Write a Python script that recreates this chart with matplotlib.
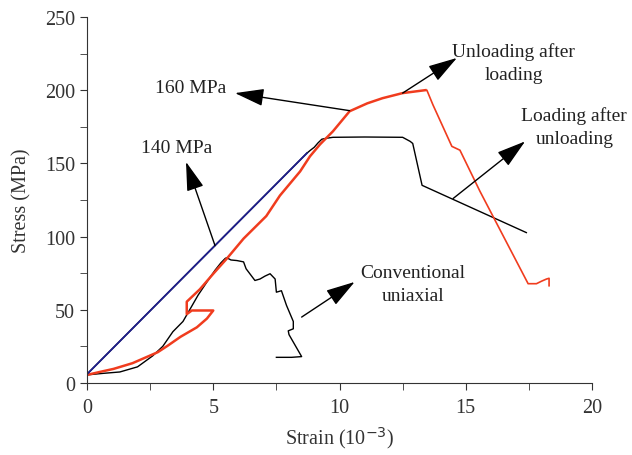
import numpy as np
import matplotlib.pyplot as plt

plt.rcParams['font.family'] = ['Liberation Serif', 'DejaVu Serif']

# conventional uniaxial (black, low peak)
conv_x = [0, 0.6, 1.3, 2.0, 2.6, 3.0, 3.4, 3.8, 4.1, 4.4, 4.75, 5.07, 5.3, 5.47, 5.53,
          5.7, 5.94, 6.2, 6.3, 6.65, 6.85, 7.05, 7.25, 7.45, 7.5, 7.7, 7.9, 8.17, 8.17,
          7.97, 8.0, 8.5, 8.1, 7.5]
conv_y = [5.5, 6.5, 7.5, 11, 18.5, 25, 35, 42, 51, 60, 69, 77, 82, 85, 85.6,
          84, 83.6, 82.7, 78, 70, 71, 73, 74.6, 71, 62, 63, 53, 42, 37,
          35.6, 33, 18, 17.5, 17.5]

# loading after unloading (black, high peak)
lau_x = [0, 8.71, 8.85, 9.0, 9.15, 9.3, 9.5, 9.74, 11.0, 12.5, 12.8, 12.9, 13.27, 17.4]
lau_y = [6, 157, 159, 161, 164, 166.5, 167.2, 167.8, 168, 167.8, 165, 163.6, 135, 102.7]

# 140 MPa reference line (blue)
blue_x = [0, 8.71]
blue_y = [6, 157]

# unloading after loading (red): rising part and falling part
red_up_x = [0, 0.5, 1.05, 1.8, 2.4, 2.8, 3.2, 3.7, 4.0, 4.35, 4.75, 5.0, 4.15, 3.95, 3.95,
            4.47, 5.0, 5.54, 6.2, 7.1, 7.64, 8.44, 8.83, 9.23, 9.74, 10.4, 11.1, 11.7,
            12.5, 13.4]
red_up_y = [5.5, 7.5, 9.6, 13.5, 18, 21, 25.5, 31.5, 34.5, 38, 44, 49.5, 49.5, 47, 55.5,
            64, 74.6, 85, 98.6, 114, 128, 144.5, 154.8, 163, 171.9, 185.6, 191, 194.5,
            198, 200]
red_dn_x = [13.4, 13.46, 13.7, 14.45, 14.77, 15.56, 17.47, 17.8, 18.0, 18.2, 18.3, 18.3]
red_dn_y = [200, 200, 190, 161.6, 159, 131, 67.8, 67.8, 69.5, 71, 71.5, 66.4]

fig = plt.figure(figsize=(6.32, 4.56), dpi=100)
ax = fig.add_axes([0.1377, 0.158, 0.799, 0.8026])

ax.plot(conv_x, conv_y, color='black', lw=1.0)
ax.plot(lau_x, lau_y, color='black', lw=1.0)
ax.plot(red_up_x, red_up_y, color='#f03c1e', lw=1.8)
ax.plot(red_dn_x, red_dn_y, color='#f03c1e', lw=1.2)
ax.plot(blue_x, blue_y, color='#1f1f8c', lw=1.3)

ax.set_xlim(0, 20)
ax.set_ylim(0, 250)
ax.set_xticks([0, 5, 10, 15, 20])
ax.set_yticks([0, 50, 100, 150, 200, 250])
ax.set_xticks(np.arange(0, 20.1, 2.5), minor=True)
ax.set_yticks(np.arange(0, 251, 25), minor=True)
ax.spines['top'].set_visible(False)
ax.spines['right'].set_visible(False)
for s in ['left', 'bottom']:
    ax.spines[s].set_color('#333333')
ax.tick_params(which='both', direction='out', length=5, color='#333333',
               labelsize=14.5, labelcolor='#333333')
ax.tick_params(axis='x', pad=6)
ax.set_xlabel('Strain (10$^{-3}$)', fontsize=14.5, color='#333333', labelpad=5)
ax.set_ylabel('Stress (MPa)', fontsize=14.5, color='#333333', labelpad=10)

arrow = dict(arrowstyle='-|>,head_length=1.0,head_width=0.3', color='black',
             lw=1.0, shrinkA=0, shrinkB=0, mutation_scale=18)
txt = dict(fontsize=14, color='#222222', ha='center', va='center', linespacing=1.45)

ax.annotate('', xy=(5.86, 198), xytext=(10.4, 186), arrowprops=arrow)
ax.text(4.1, 201.5, '160 MPa', **txt)
ax.annotate('', xy=(3.92, 151), xytext=(5.07, 93.8), arrowprops=arrow)
ax.text(3.55, 160.5, '140 MPa', **txt)
ax.annotate('', xy=(14.65, 222), xytext=(12.5, 198), arrowprops=arrow)
ax.text(16.9, 219, 'Unloading after\nloading', **txt)
ax.annotate('', xy=(17.35, 165), xytext=(14.5, 126), arrowprops=arrow)
ax.text(19.3, 175, 'Loading after\nunloading', **txt)
ax.annotate('', xy=(10.6, 69), xytext=(8.5, 45), arrowprops=arrow)
ax.text(12.9, 67.5, 'Conventional\nuniaxial', **txt)

fig.savefig('out.png', dpi=100)
